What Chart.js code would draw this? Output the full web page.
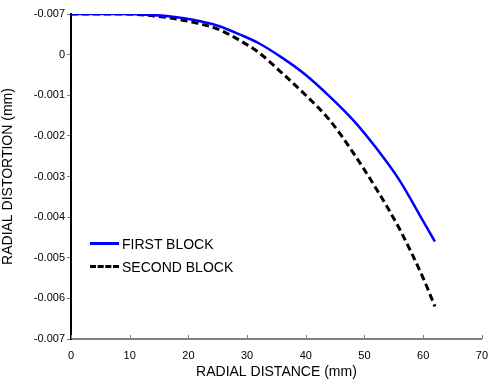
<!DOCTYPE html>
<html>
<head>
<meta charset="utf-8">
<script src="https://cdn.jsdelivr.net/npm/chart.js@4.4.0/dist/chart.umd.min.js"></script>
<style>
  body { margin: 0; background: #fff; }
  #wrap { position: relative; width: 490px; height: 381px; }
  #legenda { position: absolute; left: 90px; top: 232px; font-family: Arial, "Liberation Sans", sans-serif; font-size: 14px; color: #000; }
  .item { display: flex; align-items: center; height: 23px; }
  .linha { width: 29px; height: 0; margin-right: 3px; }
</style>
</head>
<body>
<div id="wrap">
  <canvas id="grafico" width="490" height="381"></canvas>
  <div id="legenda">
    <div class="item"><span class="linha" style="border-top: 3px solid #0000ff;"></span>FIRST BLOCK</div>
    <div class="item"><span class="linha" style="border-top: 3px dashed #000;"></span>SECOND BLOCK</div>
  </div>
</div>
<script>
// Dados
const distancias = [0, 8, 12, 17, 21, 25, 29, 32, 36, 40, 44, 48, 52, 56, 60, 62];
const primeiroBloco = [0.001, 0.001, 0.00099, 0.00094, 0.00085, 0.00071, 0.00048, 0.00028, -0.00008, -0.0005, -0.00102, -0.0016, -0.0023, -0.0031, -0.0041, -0.0046];
const segundoBloco = [0.001, 0.001, 0.00098, 0.0009, 0.00079, 0.00063, 0.00033, 0.00005, -0.00046, -0.001, -0.0016, -0.0024, -0.0033, -0.0043, -0.0055, -0.0062];
const ticksX = [0, 10, 20, 30, 40, 50, 60, 70];
const fonte = 'Arial, "Liberation Sans", sans-serif';

function pontos(valores) {
    return distancias.map((d, i) => ({ x: d, y: valores[i] }));
}

// Plugin para desenhar os ticks do eixo X para dentro
const ticksInternos = {
    id: 'ticksInternos',
    afterDraw(chart) {
        const ctx = chart.ctx;
        const escalaX = chart.scales.x;
        const base = chart.chartArea.bottom;
        ctx.save();
        ctx.strokeStyle = '#808080';
        ctx.lineWidth = 1;
        ticksX.forEach(t => {
            const px = Math.round(escalaX.getPixelForValue(t)) + 0.5;
            ctx.beginPath();
            ctx.moveTo(px, base);
            ctx.lineTo(px, base - 4);
            ctx.stroke();
        });
        ctx.restore();
    }
};

const ctx = document.getElementById('grafico');
new Chart(ctx, {
    type: 'line',
    data: {
        datasets: [{
            label: 'FIRST BLOCK',
            data: pontos(primeiroBloco),
            borderColor: '#0000ff',
            borderWidth: 2.5,
            pointRadius: 0,
            cubicInterpolationMode: 'monotone',
            fill: false
        }, {
            label: 'SECOND BLOCK',
            data: pontos(segundoBloco),
            borderColor: '#000000',
            borderWidth: 3,
            borderDash: [7, 4],
            pointRadius: 0,
            cubicInterpolationMode: 'monotone',
            fill: false
        }]
    },
    options: {
        responsive: false,
        animation: false,
        layout: { padding: { left: 0, top: 14, right: 7, bottom: 0 } },
        plugins: {
            legend: { display: false },
            tooltip: { enabled: false }
        },
        scales: {
            x: {
                type: 'linear',
                min: 0,
                max: 70,
                afterBuildTicks: scale => { scale.ticks = ticksX.map(v => ({ value: v })); },
                afterFit: scale => { scale.height = 42; },
                border: { color: '#808080', width: 2 },
                grid: { display: false },
                ticks: {
                    color: '#000',
                    font: { family: fonte, size: 11 },
                    padding: 2,
                    maxRotation: 0
                },
                title: {
                    display: true,
                    text: 'RADIAL DISTANCE (mm)',
                    color: '#000',
                    font: { family: fonte, size: 14 },
                    padding: { top: 1, bottom: 0 }
                }
            },
            y: {
                min: -0.007,
                max: 0.001,
                afterFit: scale => { scale.width = 71; },
                border: { color: '#000', width: 2 },
                grid: {
                    drawOnChartArea: false,
                    drawTicks: true,
                    tickLength: 4,
                    color: '#808080'
                },
                ticks: {
                    stepSize: 0.001,
                    color: '#000',
                    font: { family: fonte, size: 11 },
                    padding: 2,
                    callback: function(valor) {
                        const v = Math.round(valor * 1000);
                        if (v === 1) return '-0.007';
                        if (v === 0) return '0';
                        return (v / 1000).toFixed(3);
                    }
                },
                title: {
                    display: true,
                    text: 'RADIAL DISTORTION (mm)',
                    color: '#000',
                    font: { family: fonte, size: 14 },
                    padding: { top: 0, bottom: 2 }
                }
            }
        }
    },
    plugins: [ticksInternos]
});
</script>
</body>
</html>
